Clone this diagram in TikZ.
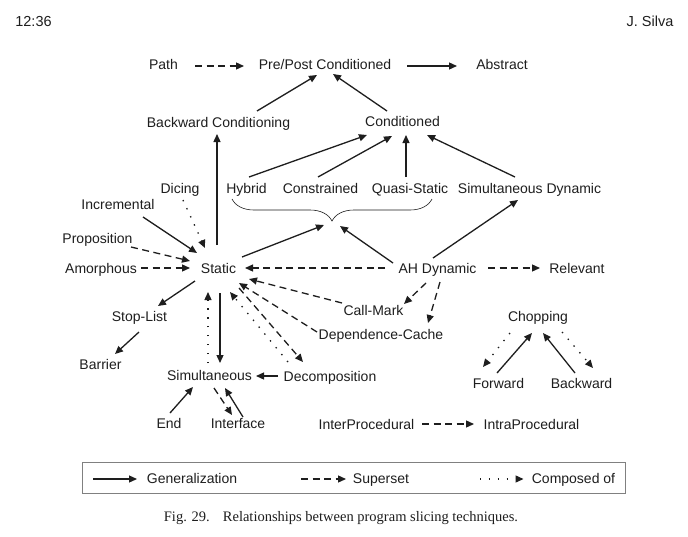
\documentclass[tikz,border=0pt]{standalone}
\usepackage{fontspec}
\setmainfont{Liberation Sans}
\newfontfamily\capfont{Liberation Serif}
\usetikzlibrary{arrows.meta,calc,decorations.pathreplacing}
\definecolor{ink}{HTML}{1E1E1E}
\definecolor{boxgray}{HTML}{808080}
\begin{document}
\begin{tikzpicture}[x=1pt,y=-1pt,
  lbl/.style={inner sep=0pt, text height=10pt, text depth=0pt, font=\fontsize{14}{16}\selectfont, text=ink},
  hdr/.style={lbl, font=\fontsize{14.5}{16}\selectfont},
  gen/.style={draw=ink, line width=1.3pt, -{Triangle[length=8pt,width=7pt]}},
  sup/.style={gen, dash pattern=on 7pt off 4.5pt},
  comp/.style={gen, dash pattern=on 1.4pt off 7.5pt},
  bracestyle/.style={draw=ink, line width=0.6pt, decorate, decoration={brace, amplitude=22pt, mirror}}
]
\fill[white] (0,0) rectangle (688,536);
\useasboundingbox (0,0) rectangle (688,536);

% header
\node[hdr] (hd1) at (33.5,21) {12:36};
\node[hdr] (hd2) at (650,21) {J. Silva};

% nodes
\node[lbl] (Path) at (163.5,64) {Path};
\node[lbl] (PP) at (325,64) {Pre/Post Conditioned};
\node[lbl] (Abs) at (502,64) {Abstract};
\node[lbl] (BC) at (218.5,122) {Backward Conditioning};
\node[lbl] (Cond) at (402.5,121) {Conditioned};
\node[lbl] (Dicing) at (180,188) {Dicing};
\node[lbl] (Hybrid) at (246.5,188) {Hybrid};
\node[lbl] (Constr) at (320.5,188) {Constrained};
\node[lbl] (Quasi) at (410,188) {Quasi-Static};
\node[lbl] (SimDyn) at (529.5,188) {Simultaneous Dynamic};
\node[lbl] (Incr) at (118,204) {Incremental};
\node[lbl] (Prop) at (97.5,238) {Proposition};
\node[lbl] (Amor) at (101,268) {Amorphous};
\node[lbl] (Static) at (218.5,268) {Static};
\node[lbl] (AH) at (437.5,268) {AH Dynamic};
\node[lbl] (Rel) at (577,268) {Relevant};
\node[lbl] (Stop) at (139.5,316) {Stop-List};
\node[lbl] (Call) at (373.5,310) {Call-Mark};
\node[lbl] (Dep) at (381,334) {Dependence-Cache};
\node[lbl] (Chop) at (538,316) {Chopping};
\node[lbl] (Barrier) at (100.5,364) {Barrier};
\node[lbl] (Simul) at (209.5,375) {Simultaneous};
\node[lbl] (Decomp) at (330,376) {Decomposition};
\node[lbl] (Fwd) at (498.5,383) {Forward};
\node[lbl] (Bwd) at (581.5,383) {Backward};
\node[lbl] (End) at (169,423) {End};
\node[lbl] (Iface) at (238,423) {Interface};
\node[lbl] (Inter) at (366.5,424) {InterProcedural};
\node[lbl] (Intra) at (531.5,424) {IntraProcedural};

% brace
\coordinate (brL) at ($(Hybrid)+(-14.5,11)$);
\coordinate (brR) at ($(Quasi)+(22,11)$);
\draw[bracestyle] (brL) -- (brR);
\coordinate (btip) at (332,221);

% edges
\draw[sup] ($(Path)+(31.5,2)$) -- ($(PP)+(-81,2)$);
\draw[gen] ($(PP)+(82,2)$) -- ($(Abs)+(-45,2)$);
\draw[gen] ($(BC)+(38.5,-11)$) -- ($(PP)+(-8,11)$);
\draw[gen] ($(Cond)+(-15.5,-10)$) -- ($(PP)+(8,10)$);
\draw[gen] ($(Static)+(-1.5,-23)$) -- ($(BC)+(-1.5,12)$);
\draw[gen] ($(Hybrid)+(2.5,-11)$) -- ($(Cond)+(-35.5,14)$);
\draw[gen] ($(Constr)+(-2.5,-11)$) -- ($(Cond)+(-10.5,15)$);
\draw[gen] ($(Quasi)+(-4,-11)$) -- ($(Cond)+(3.5,14)$);
\draw[gen] ($(SimDyn)+(-14.5,-11)$) -- ($(Cond)+(24.5,14)$);
\draw[gen] ($(Static)+(23.5,-11)$) -- ($(btip)+(-8,4)$);
\draw[gen] ($(AH)+(-44.5,-5)$) -- ($(btip)+(8,5)$);
\draw[gen] ($(AH)+(-4.5,-10)$) -- ($(SimDyn)+(-11.5,12)$);
\draw[sup] ($(AH)+(-52.5,0)$) -- ($(Static)+(26.5,0)$);
\draw[sup] ($(AH)+(50.5,0)$) -- ($(Rel)+(-37,0)$);
\draw[sup] ($(AH)+(-11.5,15)$) -- ($(Call)+(30.5,-6)$);
\draw[sup] ($(AH)+(2.5,14)$) -- ($(Dep)+(47,-11)$);
\draw[sup] ($(Call)+(-31.5,-7)$) -- ($(Static)+(30.5,11)$);
\draw[sup] ($(Dep)+(-64,-2)$) -- ($(Static)+(20.5,15)$);
\draw[sup] ($(Static)+(20.5,20)$) -- ($(Decomp)+(-27,-14)$);
\draw[comp] ($(Decomp)+(-42,-14)$) -- ($(Static)+(11.5,24)$);
\draw[gen] ($(Static)+(1.5,25)$) -- ($(Simul)+(10.5,-12)$);
\draw[comp] ($(Simul)+(-1.5,-12)$) -- ($(Static)+(-10.5,24)$);
\draw[gen] ($(Decomp)+(-52,0)$) -- ($(Simul)+(46.5,1)$);
\draw[gen] ($(End)+(1,-10)$) -- ($(Simul)+(-16.5,12)$);
\draw[sup] ($(Simul)+(4.5,13)$) -- ($(Iface)+(-6,-8)$);
\draw[gen] ($(Iface)+(5,-6)$) -- ($(Simul)+(15.5,13)$);
\draw[gen] ($(Incr)+(25,13)$) -- ($(Static)+(-21.5,-15)$);
\draw[comp] ($(Dicing)+(3,12)$) -- ($(Static)+(-13.5,-20)$);
\draw[sup] ($(Prop)+(33.5,9)$) -- ($(Static)+(-28.5,-7)$);
\draw[sup] ($(Amor)+(40,0)$) -- ($(Static)+(-28.5,0)$);
\draw[gen] ($(Static)+(-23.5,13)$) -- ($(Stop)+(18.5,-10)$);
\draw[gen] ($(Stop)+(-0.5,16)$) -- ($(Barrier)+(14.5,-10)$);
\draw[gen] ($(Fwd)+(-1.5,-10)$) -- ($(Chop)+(-6,17)$);
\draw[comp] ($(Chop)+(-28,17)$) -- ($(Fwd)+(-15.5,-16)$);
\draw[gen] ($(Bwd)+(-6.5,-10)$) -- ($(Chop)+(5,17)$);
\draw[comp] ($(Chop)+(24,16)$) -- ($(Bwd)+(11.5,-15)$);
\draw[sup] ($(Inter)+(55.5,0)$) -- ($(Intra)+(-57.5,0)$);

% legend
\node[draw=boxgray, line width=1pt, minimum width=543pt, minimum height=31pt, inner sep=0pt] (legend) at (353.5,477.5) {};
\node[lbl] (Lgen) at (192,478) {Generalization};
\node[lbl] (Lsup) at (381,478) {Superset};
\node[lbl] (Lcomp) at (573.5,478) {Composed of};
\coordinate (lg1) at (93,479);
\coordinate (lg2) at (301,479);
\coordinate (lg3) at (480,479);
\draw[gen] (lg1) -- ($(Lgen)+(-55,1)$);
\draw[sup] (lg2) -- ($(Lsup)+(-35,1)$);
\draw[comp] (lg3) -- ($(Lcomp)+(-50,1)$);

% caption
\node[inner sep=0pt, text=ink, font=\capfont\fontsize{14.5}{17}\selectfont] (cap) at (341,518) {Fig. 29.\hspace{0.9em}Relationships between program slicing techniques.};
\end{tikzpicture}
\end{document}
